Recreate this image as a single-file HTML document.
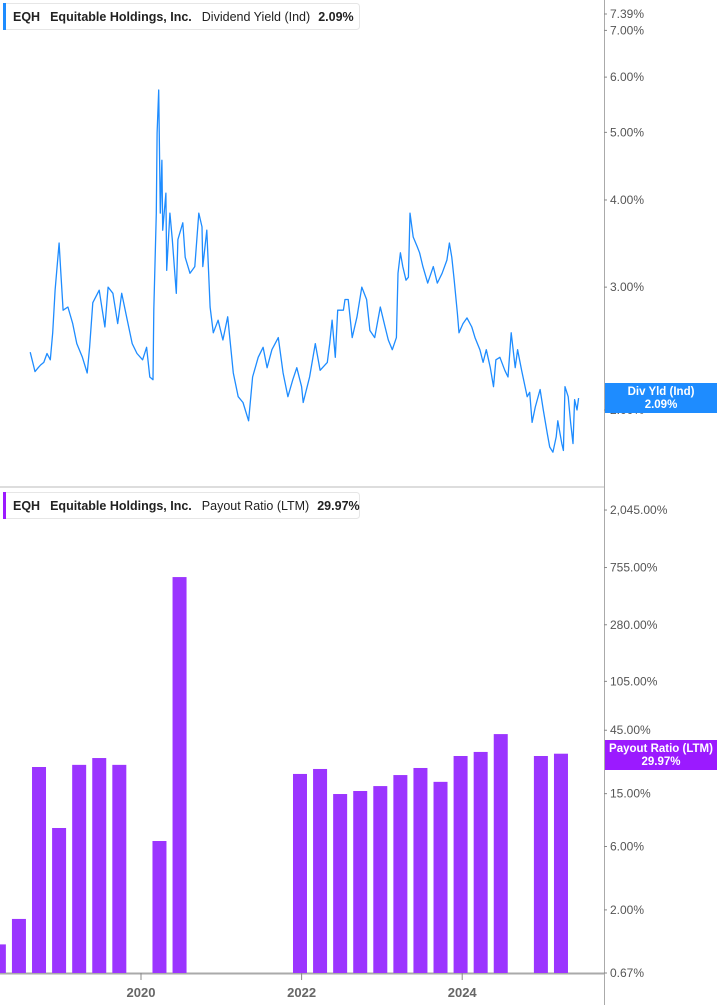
<!DOCTYPE html>
<html><head><meta charset="utf-8"><style>
body{margin:0;width:717px;height:1005px;background:#fff;overflow:hidden;font-family:"Liberation Sans",sans-serif}
svg{display:block}
</style></head><body>
<svg id="c" width="717" height="1005" xmlns="http://www.w3.org/2000/svg"></svg>
<script>
// ---- Dividend yield data (decimal year, %)
const yldDates=[2018.62,2018.66,2018.68,2018.72,2018.75,2018.79,2018.83,2018.87,2018.90,2018.93,2018.98,2019.00,2019.03,2019.09,2019.15,2019.20,2019.27,2019.33,2019.36,2019.40,2019.48,2019.55,2019.59,2019.65,2019.71,2019.76,2019.83,2019.89,2019.95,2020.02,2020.07,2020.11,2020.15,2020.16,2020.19,2020.20,2020.22,2020.24,2020.26,2020.27,2020.31,2020.32,2020.36,2020.39,2020.44,2020.46,2020.52,2020.55,2020.61,2020.67,2020.72,2020.76,2020.77,2020.82,2020.86,2020.90,2020.96,2021.02,2021.08,2021.15,2021.21,2021.27,2021.34,2021.39,2021.46,2021.52,2021.57,2021.63,2021.71,2021.77,2021.83,2021.89,2021.94,2022.00,2022.02,2022.10,2022.17,2022.23,2022.32,2022.35,2022.38,2022.42,2022.45,2022.52,2022.54,2022.58,2022.63,2022.69,2022.75,2022.81,2022.85,2022.91,2022.98,2023.04,2023.08,2023.13,2023.18,2023.20,2023.23,2023.26,2023.30,2023.33,2023.35,2023.39,2023.44,2023.47,2023.51,2023.57,2023.64,2023.69,2023.75,2023.81,2023.84,2023.87,2023.90,2023.94,2023.96,2024.01,2024.06,2024.12,2024.16,2024.22,2024.26,2024.30,2024.35,2024.39,2024.42,2024.47,2024.53,2024.57,2024.61,2024.66,2024.69,2024.74,2024.81,2024.84,2024.87,2024.91,2024.97,2025.01,2025.06,2025.09,2025.13,2025.17,2025.19,2025.24,2025.26,2025.28,2025.32,2025.35,2025.38,2025.40,2025.43,2025.45];
const yldValues=[2.42,2.32,2.27,2.30,2.32,2.34,2.41,2.36,2.58,2.97,3.47,3.17,2.78,2.81,2.66,2.49,2.38,2.26,2.46,2.85,2.97,2.63,3.00,2.94,2.66,2.94,2.69,2.49,2.41,2.36,2.46,2.23,2.21,2.78,3.83,4.99,5.75,3.83,4.56,3.62,4.09,3.17,3.83,3.51,2.94,3.51,3.71,3.31,3.14,3.21,3.83,3.66,3.21,3.62,2.81,2.58,2.69,2.52,2.72,2.26,2.09,2.05,1.93,2.23,2.38,2.46,2.30,2.44,2.54,2.26,2.09,2.21,2.30,2.16,2.05,2.23,2.49,2.28,2.34,2.49,2.69,2.38,2.78,2.78,2.88,2.88,2.54,2.72,3.00,2.88,2.60,2.54,2.81,2.63,2.52,2.44,2.54,3.14,3.36,3.21,3.07,3.10,3.83,3.54,3.43,3.36,3.21,3.04,3.21,3.04,3.14,3.28,3.47,3.31,3.07,2.75,2.58,2.66,2.71,2.63,2.54,2.44,2.34,2.44,2.30,2.16,2.36,2.38,2.28,2.23,2.58,2.30,2.44,2.28,2.09,2.12,1.92,2.02,2.14,2.00,1.85,1.77,1.74,1.83,1.93,1.79,1.75,2.16,2.09,1.92,1.79,2.07,2.00,2.08];
// ---- Payout ratio bars (quarter date, %)
const payDates=[2018.23,2018.48,2018.73,2018.98,2019.23,2019.48,2019.73,2020.23,2020.48,2021.98,2022.23,2022.48,2022.73,2022.98,2023.23,2023.48,2023.73,2023.98,2024.23,2024.48,2024.98,2025.23];
const payValues=[1.1,1.71,23.8,8.27,24.7,27.8,24.7,6.6,640,21.1,23.0,14.9,15.7,17.1,20.7,23.4,18.4,28.8,30.9,42.1,28.8,29.97];
const yldTicks=[7.39,7.00,6.00,5.00,4.00,3.00,2.00];
const payTicks=[2045,755,280,105,45,15,6,2,0.67];
const yearTicks=[2020,2022,2024];

const NS="http://www.w3.org/2000/svg";
const svg=document.getElementById('c');
function mk(tag,attrs,parent){const e=document.createElementNS(NS,tag);for(const k in attrs)e.setAttribute(k,attrs[k]);(parent||svg).appendChild(e);return e;}
const X=t=>141+(t-2020)*80.3;
const Y1=v=>410-303*Math.log(v/2);
const Y2=v=>973-57.7*Math.log(v/0.67);
const fmt=v=>v.toLocaleString('en-US',{minimumFractionDigits:2,maximumFractionDigits:2})+'%';

// divider
let d=mk('rect',{x:0,y:486,width:604,height:2,fill:'#ddd'});


// axis
let ax=mk('line',{x1:604.5,y1:0,x2:604.5,y2:1005,stroke:'#aaa','stroke-width':1});


let bx=mk('line',{x1:0,y1:973.5,x2:604,y2:973.5,stroke:'#aaa','stroke-width':2});



// line
let pts=yldDates.map((t,i)=>X(t).toFixed(1)+','+Y1(yldValues[i]).toFixed(1)).join(' ');
let pl=mk('polyline',{points:pts,fill:'none',stroke:'#1e8cff','stroke-width':1.3,'stroke-linejoin':'round'});



// bars
payDates.forEach((t,i)=>{
  const y=Y2(payValues[i]);
  const r=mk('rect',{x:X(t)-7,y:y,width:14,height:973-y,fill:'#9b35ff'});
  
  
});

// tick labels
yldTicks.forEach(v=>{
  const y=Y1(v);
  mk('line',{x1:604,y1:y,x2:607,y2:y,stroke:'#888'});
  const t=mk('text',{x:610,y:y+4,'font-size':12,fill:'#555'});t.textContent=fmt(v);
  
  
});
payTicks.forEach(v=>{
  const y=Y2(v);
  mk('line',{x1:604,y1:y,x2:607,y2:y,stroke:'#888'});
  const t=mk('text',{x:610,y:y+4,'font-size':12,fill:'#555'});t.textContent=fmt(v);
  
  
});
yearTicks.forEach(v=>{
  const x=X(v);
  mk('line',{x1:x,y1:973,x2:x,y2:980,stroke:'#888'});
  const t=mk('text',{x:x,y:997,'font-size':13,'font-weight':'bold',fill:'#666','text-anchor':'middle'});t.textContent=v;
  
  
});

// value badges
function badge(y,h,col,l1,l2,name){
  const g=mk('g',{});
  
  
  mk('rect',{x:605,y:y,width:112,height:h,fill:col},g);
  const a=mk('text',{x:661,y:y+12,'font-size':11.5,'font-weight':'bold',fill:'#fff','text-anchor':'middle'},g);a.textContent=l1;
  const b=mk('text',{x:661,y:y+25,'font-size':11.5,'font-weight':'bold',fill:'#fff','text-anchor':'middle'},g);b.textContent=l2;
}
badge(383,30,'#1e8cff','Div Yld (Ind)','2.09%','yield-value-badge');
badge(740,30,'#9b1aff','Payout Ratio (LTM)','29.97%','payout-value-badge');

// legends
function legend(y,col,metric,val,name){
  const g=mk('g',{});
  
  
  mk('rect',{x:3.5,y:y+0.5,width:356,height:26,rx:3,fill:'#fff',stroke:'#e6e6e6'},g);
  mk('rect',{x:3,y:y,width:3,height:27,fill:col},g);
  const t=mk('text',{x:13,y:y+18,'font-size':12.5,fill:'#222'},g);
  t.innerHTML='<tspan font-weight="bold">EQH</tspan><tspan dx="10" font-weight="bold">Equitable Holdings, Inc.</tspan><tspan dx="10">'+metric+'</tspan><tspan dx="8" font-weight="bold">'+val+'</tspan>';
}
legend(3,'#1e8cff','Dividend Yield (Ind)','2.09%','yield-legend');
legend(492,'#9b1aff','Payout Ratio (LTM)','29.97%','payout-legend');
</script>
</body></html>
